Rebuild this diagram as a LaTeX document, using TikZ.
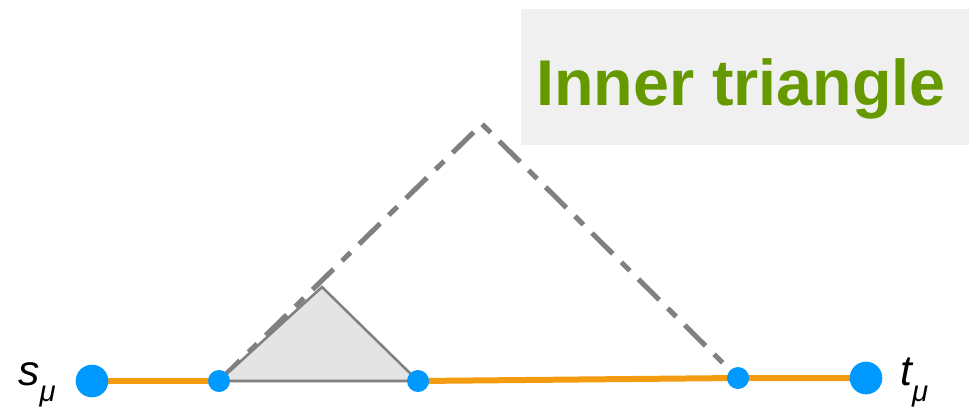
\documentclass[tikz,border=0pt]{standalone}
\usepackage{fontspec}
\setmainfont{Liberation Sans}
\definecolor{orangeline}{HTML}{F39C12}
\definecolor{dotblue}{HTML}{0099FF}
\definecolor{titlegreen}{HTML}{669900}
\definecolor{boxgray}{HTML}{F0F0F0}
\definecolor{linegray}{HTML}{808080}
\definecolor{trifill}{HTML}{E4E4E4}
\tikzset{
  bigdot/.style={circle,fill=dotblue,inner sep=0pt,minimum size=24.5pt},
  smalldot/.style={circle,fill=dotblue,inner sep=0pt,minimum size=16.5pt},
  orangeseg/.style={draw=orangeline,line width=4.5pt},
  dashdotline/.style={draw=linegray,line width=3.75pt,dash pattern=on 22pt off 9pt on 9pt off 9pt},
  innertri/.style={draw=linegray,fill=trifill,line width=1.9pt,line join=miter},
  endlabel/.style={inner sep=0pt,font=\fontsize{32}{34}\selectfont\itshape},
}
\begin{document}
\begin{tikzpicture}[x=0.75pt,y=-0.75pt]
\useasboundingbox (0,0) rectangle (969,408);
\fill[boxgray] (521,9) rectangle (969,145);
\node[text=titlegreen,font=\fontsize{48.5}{52}\selectfont\bfseries,anchor=base] (title) at (741,105) {Inner triangle};

\coordinate (S) at (92,381);
\coordinate (A) at (219,381);
\coordinate (B) at (418,381);
\coordinate (C) at (738,378);
\coordinate (T) at (866,378);
\coordinate (P) at (482,124);
\coordinate (Q) at (322,287);

\draw[orangeseg] (S) -- (A);
\draw[orangeseg] (B) -- (C) -- (T);
\draw[dashdotline] (A) -- (P) -- (C);
\filldraw[innertri] (A) -- (Q) -- (B) -- cycle;

\node[bigdot] (s) at (S) {};
\node[smalldot] (a) at (A) {};
\node[smalldot] (b) at (B) {};
\node[smalldot] (c) at (C) {};
\node[bigdot] (t) at (T) {};

\node[endlabel,anchor=base west] (slabel) at (18,385) {s\raisebox{-12.5pt}{\fontsize{22}{24}\selectfont μ}};
\node[endlabel,anchor=base west] (tlabel) at (900,385) {t\raisebox{-12.5pt}{\fontsize{22}{24}\selectfont μ}};
\end{tikzpicture}
\end{document}
